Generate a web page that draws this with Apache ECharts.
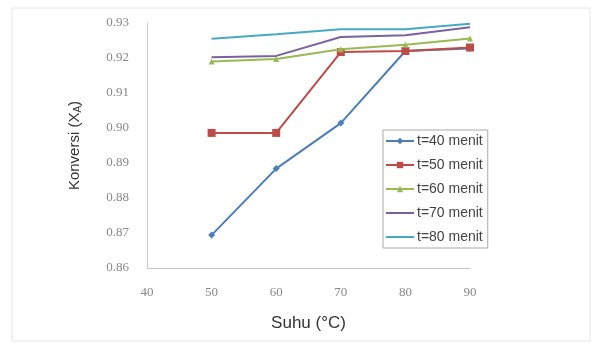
<!DOCTYPE html>
<html><head><meta charset="utf-8">
<script src="https://cdn.jsdelivr.net/npm/echarts@6/dist/echarts.min.js"></script>
<style>html,body{margin:0;padding:0;background:#fff}#c{width:601px;height:349px}</style>
</head><body><div id="c"></div>
<script>
const suhu = [50, 60, 70, 80, 90];
const t40 = [0.8694, 0.8884, 0.9014, 0.9220, 0.9227];
const t50 = [0.8986, 0.8986, 0.9217, 0.9220, 0.9230];
const t60 = [0.9190, 0.9197, 0.9225, 0.9238, 0.9256];
const t70 = [0.9202, 0.9206, 0.9260, 0.9265, 0.9288];
const t80 = [0.9255, 0.9268, 0.9282, 0.9282, 0.9298];
const names = ['t=40 menit','t=50 menit','t=60 menit','t=70 menit','t=80 menit'];

const chart = echarts.init(document.getElementById('c'), null, {renderer:'canvas'});
const mk = (arr) => suhu.map((x,i)=>[x, arr[i]]);
const defs = [
  {d:t40, c:'#4a7ebb', s:'diamond', z:7},
  {d:t50, c:'#be4b48', s:'rect', z:8},
  {d:t60, c:'#98b954', s:'triangle', z:6},
  {d:t70, c:'#7d60a0', s:'none', z:0},
  {d:t80, c:'#46aac5', s:'none', z:0}
];
chart.setOption({
  animation:false,
  graphic:[{type:'rect', shape:{x:12,y:8,width:578,height:333}, style:{fill:'none', stroke:'#e6e6e6', lineWidth:1}, silent:true}],
  grid:{left:147, right:131, top:23, bottom:81},
  xAxis:{type:'value', min:40, max:90, interval:10,
    name:'Suhu (°C)', nameLocation:'middle', nameGap:47,
    nameTextStyle:{fontFamily:'Liberation Sans', fontSize:17, color:'#333'},
    axisLine:{lineStyle:{color:'#c8c8c8', width:1}},
    axisTick:{show:false}, splitLine:{show:false},
    axisLabel:{fontFamily:'Liberation Serif', fontSize:13, color:'#888', margin:18}},
  yAxis:{type:'value', min:0.86, max:0.93, interval:0.01,
    name:'{a|Konversi (X}{s|A}{a|)}', nameLocation:'middle', nameGap:64,
    nameTextStyle:{fontFamily:'Liberation Sans', fontSize:15, color:'#333',
      rich:{a:{fontFamily:'Liberation Sans', fontSize:15, color:'#333'},
            s:{fontFamily:'Liberation Sans', fontSize:10, color:'#333', padding:[7,0,0,0]}}},
    axisLine:{show:true, lineStyle:{color:'#c8c8c8', width:1}},
    axisTick:{show:false}, splitLine:{show:false},
    axisLabel:{fontFamily:'Liberation Serif', fontSize:13, color:'#888', margin:18,
      formatter:v=>v.toFixed(2)}},
  legend:{orient:'vertical', left:383, top:130,
    backgroundColor:'#fff', borderColor:'#aaa', borderWidth:1, borderRadius:0,
    padding:[4,5,4,2], itemGap:10, itemWidth:28, itemHeight:8,
    textStyle:{fontFamily:'Liberation Sans', fontSize:14, color:'#444', padding:[0,0,0,-2]},
    data:names.map((n,i)=> defs[i].s==='none' ? {name:n, itemStyle:{opacity:0}} : {name:n})},
  series:defs.map((o,i)=>({
    name:names[i], type:'line', data:mk(o.d), z:2+i,
    lineStyle:{color:o.c, width:2},
    itemStyle:{color:o.c},
    symbol:o.s, symbolSize:o.z,
    showSymbol:o.s!=='none'
  }))
});
</script></body></html>
